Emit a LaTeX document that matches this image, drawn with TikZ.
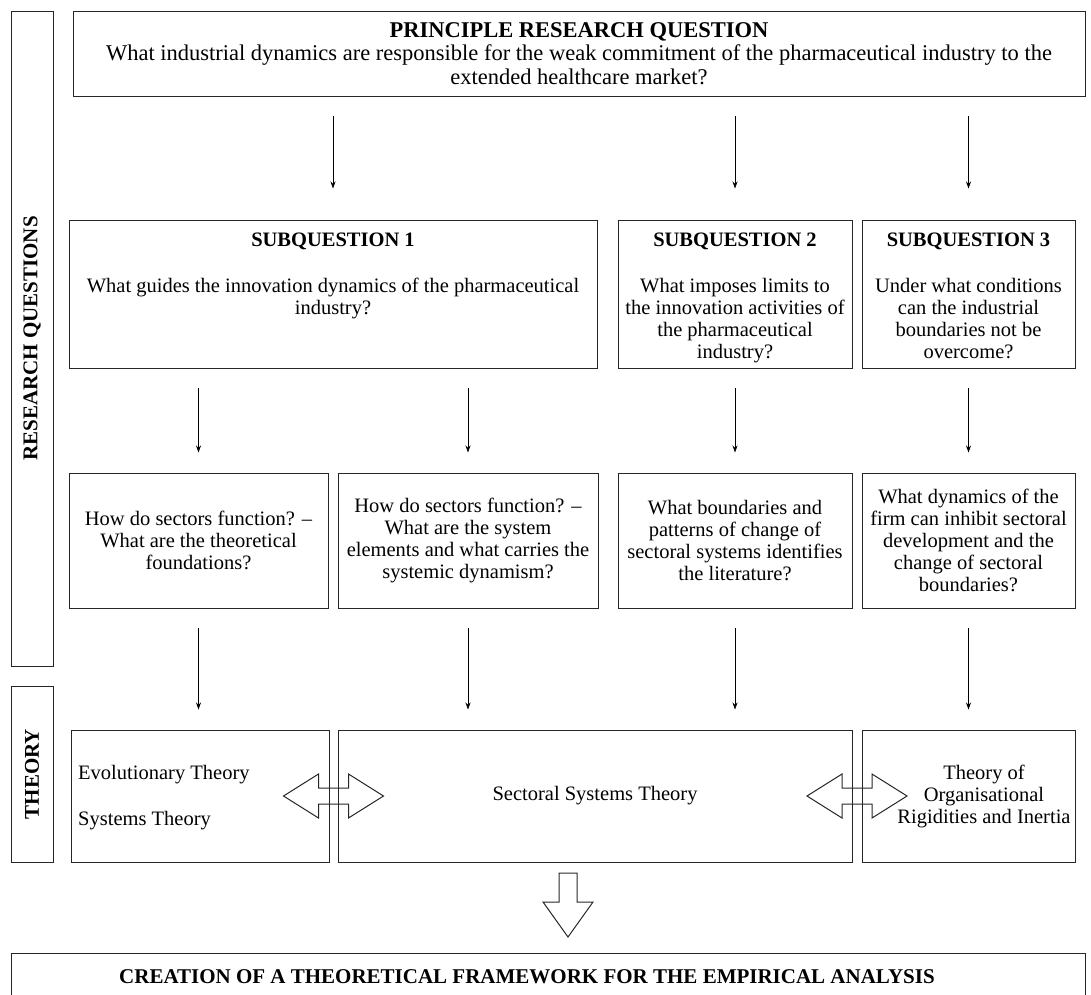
\documentclass[tikz,border=0pt]{standalone}
\usepackage{fontspec}
\setmainfont{Liberation Serif}
\usetikzlibrary{arrows.meta,calc}
\newcommand\qfont{\fontsize{20.5}{22}\selectfont}
\newcommand\pqfont{\fontsize{22.5}{23.3}\selectfont}
\begin{document}
\begin{tikzpicture}[x=1pt,y=-1pt,
  box/.style={draw=black!85, line width=1pt, inner sep=0pt, align=center, font=\qfont},
  txt/.style={inner sep=0pt, align=center, font=\qfont},
  side/.style={inner sep=0pt, rotate=90, font=\fontsize{21}{22}\selectfont\bfseries},
  arr/.style={-{Stealth[length=7pt,width=5pt]}, line width=0.7pt},
  hollow/.style={draw=black!85, line width=1pt, line join=miter}]
\useasboundingbox (0,0) rectangle (1091,994);

% side labels
\node[box, minimum width=42pt, minimum height=655pt] (rq) at (32,338.5) {};
\node[side] (rqlabel) at (rq.center) {RESEARCH QUESTIONS};
\node[box, minimum width=42pt, minimum height=176pt] (th) at (32,774) {};
\node[side] (thlabel) at (th.center) {THEORY};

% principle question
\node[box, font=\pqfont, minimum width=1012pt, minimum height=85pt] (pq) at (579,53.5)
  {\textbf{PRINCIPLE RESEARCH QUESTION}\\
   What industrial dynamics are responsible for the weak commitment of the pharmaceutical industry to the\\
   extended healthcare market?};

% subquestions
\node[box, minimum width=528pt, minimum height=148pt] (sq1) at (333,294) {};
\node[box, minimum width=234pt, minimum height=148pt] (sq2) at (735,294) {};
\node[box, minimum width=213pt, minimum height=148pt] (sq3) at (968.5,294) {};
\node[txt, anchor=north] (sq1t) at (sq1.center |- 0,232.5)
  {\textbf{SUBQUESTION 1}\\[24pt]
   What guides the innovation dynamics of the pharmaceutical\\ industry?};
\node[txt, anchor=north] (sq2t) at (sq2.center |- 0,232.5)
  {\textbf{SUBQUESTION 2}\\[24pt]
   What imposes limits to\\ the innovation activities of\\ the pharmaceutical\\ industry?};
\node[txt, anchor=north] (sq3t) at (sq3.center |- 0,232.5)
  {\textbf{SUBQUESTION 3}\\[24pt]
   Under what conditions\\ can the industrial\\ boundaries not be\\ overcome?};

% detailed questions
\node[box, minimum width=259pt, minimum height=135pt] (qa) at (198.5,540.5)
  {How do sectors function? --\\ What are the theoretical\\ foundations?};
\node[box, minimum width=260pt, minimum height=135pt] (qb) at (468,540.5)
  {How do sectors function? --\\ What are the system\\ elements and what carries the\\ systemic dynamism?};
\node[box, minimum width=234pt, minimum height=135pt] (qc) at (735,540.5)
  {What boundaries and\\ patterns of change of\\ sectoral systems identifies\\ the literature?};
\node[box, minimum width=213pt, minimum height=135pt] (qd) at (968.5,540.5)
  {What dynamics of the\\ firm can inhibit sectoral\\ development and the\\ change of sectoral\\ boundaries?};

% theories
\node[box, minimum width=258pt, minimum height=132pt] (tl) at (200,796) {};
\node[txt, anchor=base west] (evo) at (78,779) {Evolutionary Theory};
\node[txt, anchor=base west] (sys) at (78,825) {Systems Theory};
\node[box, minimum width=514pt, minimum height=132pt] (tm) at (595,796) {Sectoral Systems Theory};
\node[box, minimum width=213pt, minimum height=132pt] (tr) at (968.5,796) {};
\node[txt] (trt) at (984,796) {Theory of\\ Organisational\\ Rigidities and Inertia};

% framework
\node[box, minimum width=1074pt, minimum height=70pt] (fw) at (548,988) {};
\node[txt, font=\fontsize{21}{22}\selectfont\bfseries] (fwt) at (527,977)
  {CREATION OF A THEORETICAL FRAMEWORK FOR THE EMPIRICAL ANALYSIS};

% connectors
\draw[arr, shorten <=19pt, shorten >=31pt] (pq.south -| sq1.north) -- (sq1.north);
\draw[arr, shorten <=19pt, shorten >=31pt] (pq.south -| sq2.north) -- (sq2.north);
\draw[arr, shorten <=19pt, shorten >=31pt] (pq.south -| sq3.north) -- (sq3.north);

\draw[arr, shorten <=19pt, shorten >=20pt] (sq1.south -| qa.north) -- (qa.north);
\draw[arr, shorten <=19pt, shorten >=20pt] (sq1.south -| qb.north) -- (qb.north);
\draw[arr, shorten <=19pt, shorten >=20pt] (sq2.south) -- (qc.north);
\draw[arr, shorten <=19pt, shorten >=20pt] (sq3.south) -- (qd.north);

\draw[arr, shorten <=19pt, shorten >=20pt] (qa.south) -- (qa.south |- tl.north);
\draw[arr, shorten <=19pt, shorten >=20pt] (qb.south) -- (qb.south |- tm.north);
\draw[arr, shorten <=19pt, shorten >=20pt] (qc.south) -- (qc.south |- tm.north);
\draw[arr, shorten <=19pt, shorten >=20pt] (qd.south) -- (qd.south |- tr.north);

% two-way block arrows between theories
\coordinate (dl) at ($(tl.east)!0.5!(tm.west)$);
\coordinate (dr) at ($(tm.east)!0.5!(tr.west)$);
\foreach \c in {dl,dr}{
  \draw[hollow, shift={(\c)}] (-50,0) -- (-15,-22) -- (-15,-8) -- (15,-8) -- (15,-22)
    -- (50,0) -- (15,22) -- (15,8) -- (-15,8) -- (-15,22) -- cycle;
}

% block arrow down to the framework
\coordinate (ba) at (568,873);
\draw[hollow, shift={(ba)}] (-9,0) -- (9,0) -- (9,29) -- (25,29) -- (0,64)
  -- (-25,29) -- (-9,29) -- cycle;
\end{tikzpicture}
\end{document}
